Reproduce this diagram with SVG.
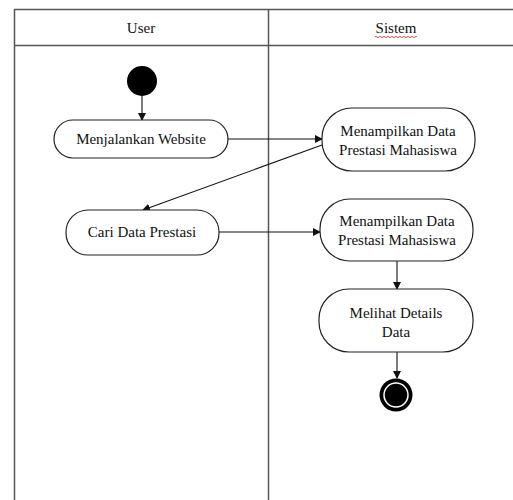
<svg xmlns="http://www.w3.org/2000/svg" width="513" height="500" viewBox="0 0 513 500">
<style>
.lane{stroke:#555;stroke-width:1.5;fill:none}
.node{fill:#fff;stroke:#222;stroke-width:1.2}
.t{font-family:"Liberation Serif","Times New Roman",serif;font-size:15px;fill:#111;text-anchor:middle}
.c{stroke:#111;stroke-width:1.1;fill:none;marker-end:url(#ah)}
</style>
<defs>
<marker id="ah" markerWidth="8" markerHeight="8" refX="7" refY="4" orient="auto" markerUnits="userSpaceOnUse">
<path d="M0,0 L8,4 L0,8 z" fill="#111"/>
</marker>
</defs>
<rect width="513" height="500" fill="#fff"/>
<g id="lanes">
<line class="lane" x1="14" y1="9.5" x2="513" y2="9.5"/>
<line class="lane" x1="14" y1="45.5" x2="513" y2="45.5" stroke="#111"/>
<line class="lane" x1="14.5" y1="9" x2="14.5" y2="500"/>
<line class="lane" x1="268.5" y1="9" x2="268.5" y2="500"/>
<text class="t" x="141" y="33">User</text>
<text class="t" x="396" y="33">Sistem</text>
<path d="M375,37 q1,-1.5 2,0 t2,0 t2,0 t2,0 t2,0 t2,0 t2,0 t2,0 t2,0 t2,0 t2,0 t2,0 t2,0 t2,0 t2,0 t2,0 t2,0 t2,0 t2,0 t2,0 t2,0" stroke="#d22" stroke-width="0.8" fill="none"/>
</g>
<g id="connectors">
<line class="c" x1="142" y1="96" x2="142" y2="120"/>
<line class="c" x1="228" y1="139" x2="322" y2="139"/>
<line class="c" x1="322" y1="145" x2="143" y2="210"/>
<line class="c" x1="219" y1="232" x2="320" y2="232"/>
<line class="c" x1="397" y1="261" x2="397" y2="289"/>
<line class="c" x1="397" y1="352" x2="397" y2="378"/>
</g>
<g id="start"><circle cx="142" cy="81" r="15" fill="#000"/></g>
<g id="menjalankan">
<rect class="node" x="54" y="120" width="174" height="38" rx="19"/>
<text class="t" x="141" y="144">Menjalankan Website</text>
</g>
<g id="menampilkan1">
<rect class="node" x="322" y="108" width="153" height="63" rx="30"/>
<text class="t" x="398" y="136">Menampilkan Data</text>
<text class="t" x="398" y="155">Prestasi Mahasiswa</text>
</g>
<g id="cari">
<rect class="node" x="66" y="210" width="153" height="45" rx="22"/>
<text class="t" x="142" y="237">Cari Data Prestasi</text>
</g>
<g id="menampilkan2">
<rect class="node" x="320" y="199" width="153" height="62" rx="30"/>
<text class="t" x="397" y="226">Menampilkan Data</text>
<text class="t" x="397" y="245">Prestasi Mahasiswa</text>
</g>
<g id="melihat">
<rect class="node" x="319" y="289" width="154" height="63" rx="30"/>
<text class="t" x="396" y="318">Melihat Details</text>
<text class="t" x="396" y="337">Data</text>
</g>
<g id="end">
<circle cx="396" cy="395" r="16.5" fill="#000"/>
<circle cx="396" cy="395" r="12" fill="none" stroke="#fff" stroke-width="1.5"/>
</g>
</svg>
